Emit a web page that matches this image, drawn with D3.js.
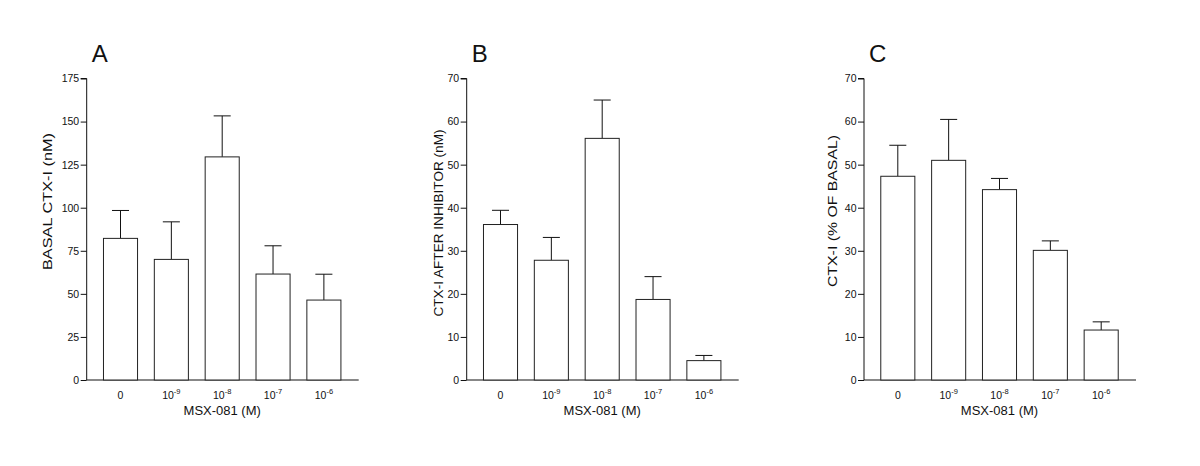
<!DOCTYPE html>
<html>
<head>
<meta charset="utf-8">
<script src="https://cdn.jsdelivr.net/npm/d3@7"></script>
<style>
  body { margin: 0; background: #fff; }
  text { font-family: Arial, "Liberation Sans", sans-serif; fill: #111; }
</style>
</head>
<body>
<div id="vis"></div>
<script>
// concentrations of MSX-081 (exponent of 10, "0" = control)
var doses = ["0", "-9", "-8", "-7", "-6"];

var basalMean = [82.2, 70.0, 129.5, 61.5, 46.4];
var basalErr  = [16.2, 21.8, 23.8, 16.4, 15.0];

var inhibMean = [36.1, 27.8, 56.1, 18.7, 4.5];
var inhibErr  = [3.3, 5.3, 8.9, 5.3, 1.2];

var pctMean = [47.3, 51.0, 44.2, 30.1, 11.6];
var pctErr  = [7.2, 9.5, 2.6, 2.2, 1.9];

var basalTicks = [0, 25, 50, 75, 100, 125, 150, 175];
var pctTicks = [0, 10, 20, 30, 40, 50, 60, 70];

var panels = [
  {letter: "A", x0: 86.7, max: 175, ticks: basalTicks, mean: basalMean, err: basalErr,
   title: "BASAL CTX-I (nM)", tx: 46.7, ty: 201.5, tlen: 137},
  {letter: "B", x0: 466.7, max: 70, ticks: pctTicks, mean: inhibMean, err: inhibErr,
   title: "CTX-I AFTER INHIBITOR (nM)", tx: 438.3, ty: 223, tlen: 187},
  {letter: "C", x0: 864, max: 70, ticks: pctTicks, mean: pctMean, err: pctErr,
   title: "CTX-I (% OF BASAL)", tx: 831.7, ty: 211, tlen: 152}
];

var width = 1200, height = 466;
var yTop = 78.5, yBottom = 380;
var font = "Arial, 'Liberation Sans', sans-serif";

var svg = d3.select("#vis").append("svg")
  .attr("width", width)
  .attr("height", height);

panels.forEach(function(p) {
  var x = d3.scaleBand()
    .domain(doses)
    .range([p.x0, p.x0 + 271])
    .paddingInner(0.33)
    .paddingOuter(0.33);
  var y = d3.scaleLinear().domain([0, p.max]).range([yBottom, yTop]);

  var g = svg.append("g");

  // y axis
  var yAxis = g.append("g")
    .attr("transform", "translate(" + p.x0 + ",0)")
    .call(d3.axisLeft(y).tickValues(p.ticks).tickSize(6).tickPadding(1.5));
  yAxis.selectAll("text").attr("font-size", 10.5).attr("font-family", font).attr("fill", "#111");
  yAxis.selectAll("line, path").attr("stroke", "#111");
  yAxis.select(".domain").attr("d", "M0," + yBottom + "V" + yTop + "H-6");

  // x axis, no tick marks
  var xAxis = g.append("g")
    .attr("transform", "translate(0," + yBottom + ")")
    .call(d3.axisBottom(x).tickSize(0).tickFormat(""));
  xAxis.select(".domain").attr("stroke", "#111").attr("d", "M" + p.x0 + ",0H" + (p.x0 + 272));
  xAxis.selectAll(".tick text").each(function(d) {
    var t = d3.select(this).attr("font-size", 10.5).attr("dy", 0).attr("y", 18.5)
      .attr("font-family", font).attr("fill", "#111");
    if (d === "0") {
      t.text("0");
    } else {
      t.append("tspan").text("10");
      t.append("tspan").attr("dy", -5).attr("font-size", 7.5).text(d);
    }
  });

  // error bars (upper only)
  var cap = x.bandwidth() / 4;
  g.selectAll(".err").data(doses).enter().append("path")
    .attr("fill", "none").attr("stroke", "#111").attr("stroke-width", 1)
    .attr("d", function(d, i) {
      var cx = x(d) + x.bandwidth() / 2;
      var top = y(p.mean[i] + p.err[i]);
      return "M" + cx + "," + y(p.mean[i]) + "V" + top + "M" + (cx - cap) + "," + top + "H" + (cx + cap);
    });

  // bars
  g.selectAll(".bar").data(doses).enter().append("rect")
    .attr("x", function(d) { return x(d); })
    .attr("y", function(d, i) { return y(p.mean[i]); })
    .attr("width", x.bandwidth())
    .attr("height", function(d, i) { return yBottom - y(p.mean[i]); })
    .attr("fill", "#fff").attr("stroke", "#222").attr("stroke-width", 1);

  // titles
  g.append("text")
    .attr("x", p.x0 + 135.5).attr("y", 415)
    .attr("text-anchor", "middle").attr("font-size", 13)
    .text("MSX-081 (M)");

  g.append("text")
    .attr("transform", "translate(" + (p.tx + 5) + "," + p.ty + ") rotate(-90)")
    .attr("text-anchor", "middle").attr("font-size", 13)
    .attr("textLength", p.tlen).attr("lengthAdjust", "spacingAndGlyphs")
    .text(p.title);

  g.append("text")
    .attr("x", p.x0 + 5).attr("y", 62)
    .attr("font-size", 24)
    .text(p.letter);
});
</script>
</body>
</html>
